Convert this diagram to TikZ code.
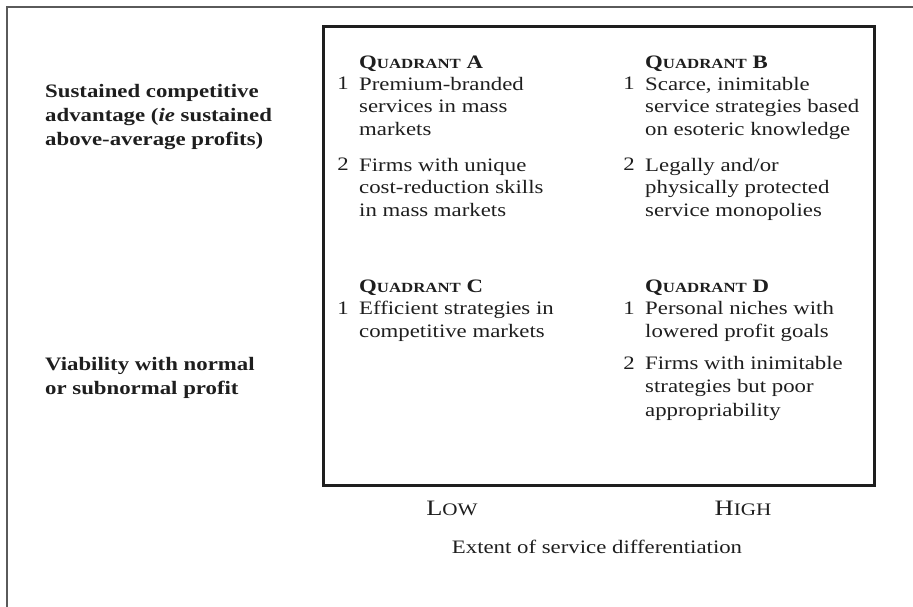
\documentclass[tikz,border=0pt]{standalone}
\usepackage{fontspec}
\setmainfont{Liberation Serif}[FakeStretch=1.2]
\definecolor{ink}{HTML}{1E1E1E}
\definecolor{framegray}{HTML}{5A5A5A}
% bold heading with a large initial and reduced capitals
\newcommand\quadhead[1]{\textbf{Q{\fontsize{14}{14}\selectfont UADRANT} #1}}
% reduced-capital axis word
\newcommand\axisword[2]{#1{\fontsize{17.6}{20}\selectfont #2}}
\begin{document}
\begin{tikzpicture}[x=1pt,y=-1pt,
  body/.style={inner sep=0pt, anchor=north west, align=left, text=ink,
    font=\fontsize{19}{22.5}\selectfont},
  bodyloose/.style={body, font=\fontsize{19}{23.5}\selectfont},
  num/.style={inner sep=0pt, anchor=base east, text=ink,
    font=\fontsize{19}{22.5}\selectfont},
  rowlabel/.style={inner sep=0pt, anchor=north west, align=left, text=ink,
    font=\fontsize{19}{24}\selectfont\bfseries},
  axis/.style={inner sep=0pt, anchor=base, text=ink,
    font=\fontsize{22}{26}\selectfont},
  caption/.style={inner sep=0pt, anchor=base, text=ink,
    font=\fontsize{19}{22.5}\selectfont}
]
\useasboundingbox (0,0) rectangle (913,607);

% partial outer frame
\draw[framegray, line width=2pt] (913,7) -- (7,7) -- (7,607);

% the matrix box
\node (grid) [draw=ink, line width=2.8pt, inner sep=0pt, anchor=north west,
  minimum width=551pt, minimum height=459pt] at (322,25) {};

% row labels
\node (rowhi) [rowlabel] at (45,81)
  {\strut Sustained competitive\\advantage (\textit{ie} sustained\\above-average profits)};
\node (rowlo) [rowlabel] at (45,353)
  {\strut Viability with normal\\or subnormal profit};

% quadrant A
\node (qa) [body] at (359,52.25) {\strut\quadhead{A}};
\node (qa1n) [num] at (349,90) {1};
\node (qa1) [body] at (359,74.25) {\strut Premium-branded\\services in mass\\markets};
\node (qa2n) [num] at (349,171) {2};
\node (qa2) [body] at (359,155.25) {\strut Firms with unique\\cost-reduction skills\\in mass markets};

% quadrant B
\node (qb) [body] at (645,52.25) {\strut\quadhead{B}};
\node (qb1n) [num] at (635,90) {1};
\node (qb1) [body] at (645,74.25) {\strut Scarce, inimitable\\service strategies based\\on esoteric knowledge};
\node (qb2n) [num] at (635,171) {2};
\node (qb2) [body] at (645,155.25) {\strut Legally and/or\\physically protected\\service monopolies};

% quadrant C
\node (qc) [body] at (359,276.25) {\strut\quadhead{C}};
\node (qc1n) [num] at (349,314) {1};
\node (qc1) [bodyloose] at (359,297.55) {\strut Efficient strategies in\\competitive markets};

% quadrant D
\node (qd) [body] at (645,276.25) {\strut\quadhead{D}};
\node (qd1n) [num] at (635,314) {1};
\node (qd1) [bodyloose] at (645,297.55) {\strut Personal niches with\\lowered profit goals};
\node (qd2n) [num] at (635,369) {2};
\node (qd2) [bodyloose] at (645,352.55) {\strut Firms with inimitable\\strategies but poor\\appropriability};

% horizontal axis
\node (low) [axis] at (452,515) {\axisword{L}{OW}};
\node (high) [axis] at (743,515) {\axisword{H}{IGH}};
\node (xcap) [caption] at (597,553) {Extent of service differentiation};
\end{tikzpicture}
\end{document}
